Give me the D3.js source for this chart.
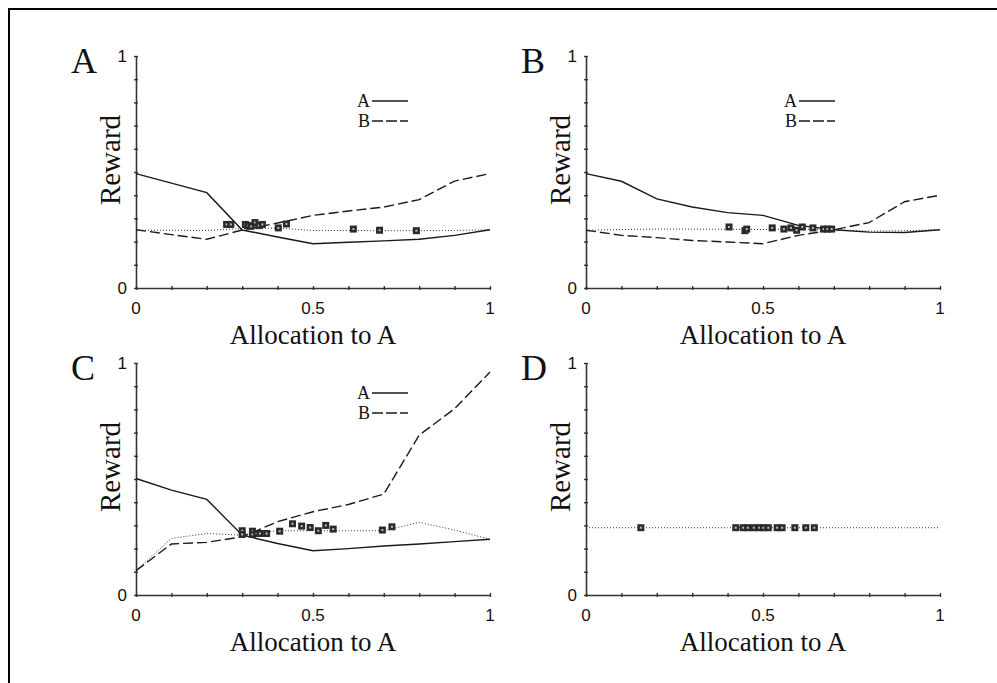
<!DOCTYPE html>
<html lang="en">
<head>
  <meta charset="UTF-8">
  <title>Reward vs allocation</title>
  <style>
    body { margin: 0; background: #fff; }
    .serif { font-family: 'Liberation Serif', 'Times New Roman', 'DejaVu Serif', serif; fill: #111; }
    .sans { font-family: 'Liberation Sans', Arial, sans-serif; fill: #111; }
  </style>
  <script src="https://d3js.org/d3.v7.min.js"></script>
</head>
<body>
  <svg id="fig" width="997" height="683"></svg>
  <script>
    // x grid for the curves
    const grid = [0, 0.1, 0.2, 0.3, 0.4, 0.5, 0.6, 0.7, 0.8, 0.9, 1];

    // panel A
    const aSolidA = [0.493, 0.452, 0.411, 0.25, 0.22, 0.191, 0.197, 0.203, 0.21, 0.227, 0.251];
    const aDashB  = [0.251, 0.23, 0.21, 0.25, 0.28, 0.313, 0.332, 0.349, 0.381, 0.461, 0.493];
    const aDot    = [0.249, 0.249, 0.248, 0.256, 0.258, 0.248, 0.248, 0.247, 0.247, 0.248, 0.251];
    const aPtsX = [0.256, 0.268, 0.309, 0.317, 0.325, 0.336, 0.347, 0.357, 0.402, 0.425, 0.614, 0.688, 0.792];
    const aPtsY = [0.274, 0.274, 0.274, 0.269, 0.266, 0.282, 0.269, 0.274, 0.259, 0.276, 0.254, 0.249, 0.247];

    // panel B
    const bSolidA = [0.493, 0.46, 0.384, 0.349, 0.325, 0.313, 0.27, 0.251, 0.241, 0.239, 0.251];
    const bDashB  = [0.249, 0.227, 0.217, 0.205, 0.198, 0.191, 0.227, 0.251, 0.282, 0.372, 0.40];
    const bDot    = [0.249, 0.252, 0.254, 0.254, 0.253, 0.252, 0.254, 0.251, 0.245, 0.247, 0.251];
    const bPtsX = [0.404, 0.449, 0.454, 0.526, 0.559, 0.579, 0.595, 0.611, 0.641, 0.671, 0.682, 0.694];
    const bPtsY = [0.263, 0.247, 0.254, 0.259, 0.254, 0.259, 0.249, 0.263, 0.259, 0.254, 0.254, 0.254];

    // panel C
    const cSolidA = [0.502, 0.452, 0.412, 0.258, 0.222, 0.191, 0.2, 0.211, 0.22, 0.23, 0.24];
    const cDashB  = [0.105, 0.22, 0.227, 0.251, 0.316, 0.359, 0.39, 0.435, 0.689, 0.803, 0.961];
    const cDot    = [0.105, 0.244, 0.265, 0.258, 0.277, 0.277, 0.277, 0.277, 0.313, 0.28, 0.24];
    const cPtsX = [0.3, 0.3, 0.329, 0.329, 0.341, 0.35, 0.369, 0.406, 0.442, 0.468, 0.492, 0.515, 0.536, 0.557, 0.696, 0.723];
    const cPtsY = [0.277, 0.261, 0.275, 0.261, 0.265, 0.265, 0.265, 0.275, 0.307, 0.297, 0.291, 0.277, 0.3, 0.284, 0.28, 0.294];

    // panel D
    const dDot  = [0.29, 0.29, 0.29, 0.29, 0.29, 0.29, 0.29, 0.29, 0.29, 0.29, 0.29];
    const dPtsX = [0.155, 0.423, 0.444, 0.457, 0.474, 0.489, 0.501, 0.515, 0.54, 0.554, 0.59, 0.621, 0.645];
    const dPtsY = [0.29, 0.29, 0.29, 0.29, 0.29, 0.29, 0.29, 0.29, 0.29, 0.29, 0.29, 0.29, 0.29];

    const xTickLabels = ["0", "0.5", "1"];
    const yTickLabels = ["0", "1"];

    const panels = [
      { letter: "A", ox: 136, oy: 56, solid: aSolidA, dash: aDashB, dot: aDot, px: aPtsX, py: aPtsY, legend: [236, 45] },
      { letter: "B", ox: 586, oy: 56, solid: bSolidA, dash: bDashB, dot: bDot, px: bPtsX, py: bPtsY, legend: [213, 45] },
      { letter: "C", ox: 136, oy: 363, solid: cSolidA, dash: cDashB, dot: cDot, px: cPtsX, py: cPtsY, legend: [236, 30] },
      { letter: "D", ox: 586, oy: 363, solid: null, dash: null, dot: dDot, px: dPtsX, py: dPtsY, legend: null }
    ];

    const W = 354, H = 232;
    const svg = d3.select("#fig");

    // frame (top and left edges visible)
    svg.append("path")
      .attr("d", "M9,683 V9 H997")
      .attr("fill", "none").attr("stroke", "#000").attr("stroke-width", 2);

    panels.forEach(p => {
      const g = svg.append("g").attr("transform", `translate(${p.ox},${p.oy})`);
      const x = d3.scaleLinear().domain([0, 1]).range([0, W]);
      const y = d3.scaleLinear().domain([0, 1]).range([H, 0]);
      const line = d3.line().x((d, i) => x(grid[i])).y(d => y(d));

      // axes
      const xAxis = g.append("g").attr("transform", `translate(0,${H})`)
        .call(d3.axisBottom(x).ticks(10).tickSize(0).tickFormat(""));
      const yAxis = g.append("g")
        .call(d3.axisLeft(y).ticks(10).tickSize(0).tickFormat(""));
      [xAxis, yAxis].forEach(a => {
        a.select(".domain").attr("stroke", "#333").attr("stroke-width", 1.6);
      });
      xAxis.selectAll(".tick line").attr("y1", -2).attr("y2", 2).attr("stroke", "#333").attr("stroke-width", 1.4);
      yAxis.selectAll(".tick line").attr("x1", -2).attr("x2", 2).attr("stroke", "#333").attr("stroke-width", 1.4);

      // tick labels
      g.selectAll(".xl").data(xTickLabels).enter().append("text")
        .attr("class", "sans")
        .attr("x", d => x(+d)).attr("y", H + 26)
        .attr("text-anchor", "middle").attr("font-size", 17)
        .text(d => d);
      g.selectAll(".yl").data(yTickLabels).enter().append("text")
        .attr("class", "sans")
        .attr("x", -9).attr("y", d => y(+d) + 6)
        .attr("text-anchor", "end").attr("font-size", 17)
        .text(d => d);

      // axis titles and panel letter
      g.append("text").attr("class", "serif")
        .attr("transform", `translate(-16,104) rotate(-90)`)
        .attr("text-anchor", "middle").attr("font-size", 29)
        .text("Reward");
      g.append("text").attr("class", "serif")
        .attr("x", W / 2).attr("y", 288)
        .attr("text-anchor", "middle").attr("font-size", 27)
        .text("Allocation to A");
      g.append("text").attr("class", "serif")
        .attr("x", -65).attr("y", 17)
        .attr("font-size", 36)
        .text(p.letter);

      // curves
      g.append("path").datum(p.dot)
        .attr("d", line).attr("fill", "none")
        .attr("stroke", "#333").attr("stroke-width", 1).attr("stroke-dasharray", "1,2");
      if (p.solid) {
        g.append("path").datum(p.solid)
          .attr("d", line).attr("fill", "none")
          .attr("stroke", "#1a1a1a").attr("stroke-width", 1.4);
      }
      if (p.dash) {
        g.append("path").datum(p.dash)
          .attr("d", line).attr("fill", "none")
          .attr("stroke", "#1a1a1a").attr("stroke-width", 1.4).attr("stroke-dasharray", "10,4");
      }

      // markers
      const pts = p.px.map((v, i) => [v, p.py[i]]);
      const m = g.selectAll(".mk").data(pts).enter().append("g")
        .attr("transform", d => `translate(${x(d[0])},${y(d[1])})`);
      m.append("rect").attr("x", -3.5).attr("y", -3.5).attr("width", 7).attr("height", 7)
        .attr("fill", "#2a2a2a");
      m.append("rect").attr("x", -1).attr("y", -1).attr("width", 2).attr("height", 2)
        .attr("fill", "#bbb");

      // legend
      if (p.legend) {
        const [lx, ly] = p.legend;
        [["A", null, 0], ["B", "11,3", 20]].forEach(([lab, dash, dy]) => {
          g.append("text").attr("class", "serif")
            .attr("x", lx - 2).attr("y", ly + dy + 6)
            .attr("text-anchor", "end").attr("font-size", 18)
            .text(lab);
          const l = g.append("line")
            .attr("x1", lx).attr("x2", lx + 36)
            .attr("y1", ly + dy).attr("y2", ly + dy)
            .attr("stroke", "#1a1a1a").attr("stroke-width", 1.6);
          if (dash) l.attr("stroke-dasharray", dash);
        });
      }
    });
  </script>
</body>
</html>
